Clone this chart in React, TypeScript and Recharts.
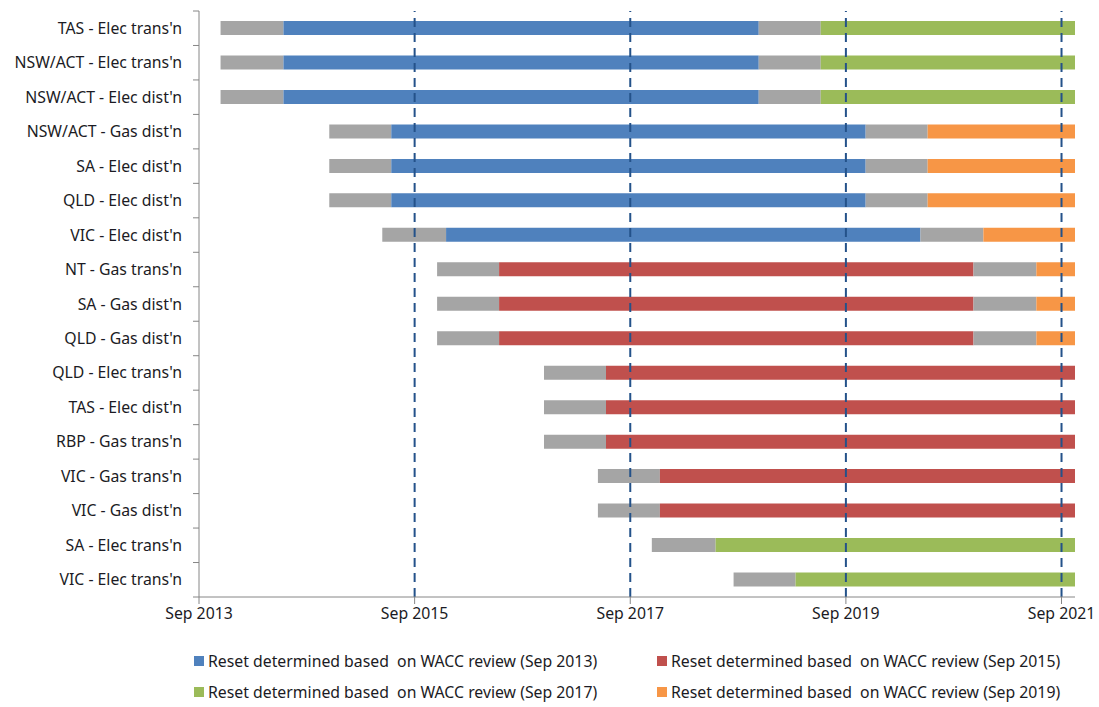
import React from "react";
import { BarChart, Bar, Cell, XAxis, YAxis, ReferenceLine } from "recharts";

// months after Sep 2013
const categories = [
  "TAS - Elec trans'n",
  "NSW/ACT - Elec trans'n",
  "NSW/ACT - Elec dist'n",
  "NSW/ACT - Gas dist'n",
  "SA - Elec dist'n",
  "QLD - Elec dist'n",
  "VIC - Elec dist'n",
  "NT - Gas trans'n",
  "SA - Gas dist'n",
  "QLD - Gas dist'n",
  "QLD - Elec trans'n",
  "TAS - Elec dist'n",
  "RBP - Gas trans'n",
  "VIC - Gas trans'n",
  "VIC - Gas dist'n",
  "SA - Elec trans'n",
  "VIC - Elec trans'n",
];
const reviewStart = [2.4, 2.4, 2.4, 14.5, 14.5, 14.5, 20.4, 26.5, 26.5, 26.5, 38.4, 38.4, 38.4, 44.4, 44.4, 50.4, 59.5];
const resetStart = [9.4, 9.4, 9.4, 21.4, 21.4, 21.4, 27.5, 33.4, 33.4, 33.4, 45.3, 45.3, 45.3, 51.3, 51.3, 57.5, 66.4];
const nextReviewStart = [62.3, 62.3, 62.3, 74.2, 74.2, 74.2, 80.3, 86.2, 86.2, 86.2, null, null, null, null, null, null, null];
const nextResetStart = [69.2, 69.2, 69.2, 81.1, 81.1, 81.1, 87.3, 93.2, 93.2, 93.2, null, null, null, null, null, null, null];
const resetBasis = ["2013", "2013", "2013", "2013", "2013", "2013", "2013", "2015", "2015", "2015", "2015", "2015", "2015", "2015", "2015", "2017", "2017"];
const nextBasis = ["2017", "2017", "2017", "2019", "2019", "2019", "2019", "2019", "2019", "2019", null, null, null, null, null, null, null];

const END = 97.5; // right edge of the time axis
const tickMonths = [0, 24, 48, 72, 96];
const tickLabels = ["Sep 2013", "Sep 2015", "Sep 2017", "Sep 2019", "Sep 2021"];
const reviewLines = [24, 48, 72, 96];

const GREY = "#A5A5A5";
const BASIS_COLORS: Record<string, string> = {
  "2013": "#4F81BD",
  "2015": "#C0504D",
  "2017": "#9BBB59",
  "2019": "#F79646",
};
const legendItems = ["2013", "2015", "2017", "2019"];

const FONT = "'Noto Sans', Lato, sans-serif";
const TEXT = "#1b1b24";
const AXIS = "#868686";
const FS = 15.8;

const PLOT_LEFT = 199;
const PLOT_TOP = 11;
const PLOT_BOTTOM = 597;
const BAND = (PLOT_BOTTOM - PLOT_TOP) / categories.length;

const data = categories.map((name, i) => {
  const mainEnd = nextReviewStart[i] ?? END;
  return {
    name,
    offset: reviewStart[i],
    pre: resetStart[i] - reviewStart[i],
    main: mainEnd - resetStart[i],
    gap: nextReviewStart[i] != null ? nextResetStart[i]! - nextReviewStart[i]! : 0,
    next: nextResetStart[i] != null ? END - nextResetStart[i]! : 0,
  };
});

const CategoryTick = (props: any) => {
  const { y, payload, index } = props;
  return (
    <g>
      <text x={182} y={y} dy="0.35em" textAnchor="end" fontSize={FS} fill={TEXT} fontFamily={FONT}>
        {payload.value}
      </text>
      <line x1={PLOT_LEFT - 6} x2={PLOT_LEFT} y1={y - BAND / 2} y2={y - BAND / 2} stroke={AXIS} />
      {index === categories.length - 1 && (
        <line x1={PLOT_LEFT - 6} x2={PLOT_LEFT} y1={y + BAND / 2} y2={y + BAND / 2} stroke={AXIS} />
      )}
    </g>
  );
};

const App = () => {
  return (
    <div style={{ position: "absolute", left: 0, top: 0, width: 1099, height: 707, background: "#fff", fontFamily: FONT }}>
      <BarChart
        width={1099}
        height={640}
        data={data}
        layout="vertical"
        barCategoryGap={0}
        barSize={14}
        margin={{ top: PLOT_TOP, right: 24, bottom: 0, left: 0 }}
      >
        <XAxis
          type="number"
          domain={[0, END]}
          ticks={tickMonths}
          tickFormatter={(v) => tickLabels[tickMonths.indexOf(v)]}
          height={43}
          allowDataOverflow
          stroke={AXIS}
          tickSize={7}
          tick={{ fontSize: FS, fill: TEXT, fontFamily: FONT }}
          tickMargin={4}
        />
        <YAxis
          type="category"
          dataKey="name"
          width={PLOT_LEFT}
          stroke={AXIS}
          tickLine={false}
          interval={0}
          tick={<CategoryTick />}
        />
        <Bar dataKey="offset" stackId="a" fill="transparent" isAnimationActive={false} />
        <Bar dataKey="pre" stackId="a" fill={GREY} isAnimationActive={false} />
        <Bar dataKey="main" stackId="a" isAnimationActive={false}>
          {data.map((d, i) => (
            <Cell key={d.name} fill={BASIS_COLORS[resetBasis[i]]} />
          ))}
        </Bar>
        <Bar dataKey="gap" stackId="a" fill={GREY} isAnimationActive={false} />
        <Bar dataKey="next" stackId="a" isAnimationActive={false}>
          {data.map((d, i) => (
            <Cell key={d.name} fill={nextBasis[i] ? BASIS_COLORS[nextBasis[i]!] : "transparent"} />
          ))}
        </Bar>
        {reviewLines.map((m) => (
          <ReferenceLine key={m} x={m} stroke="#24528A" strokeWidth={2} strokeDasharray="9 6" />
        ))}
      </BarChart>

      {/* Legend */}
      <div
        style={{
          position: "absolute",
          left: 194,
          top: 650,
          display: "grid",
          gridTemplateColumns: "463px 420px",
          rowGap: 9,
          fontSize: FS,
          color: TEXT,
        }}
      >
        {legendItems.map((k) => (
          <div key={k} style={{ display: "flex", alignItems: "center", height: 22 }}>
            <span style={{ width: 10, height: 10, background: BASIS_COLORS[k], marginRight: 4, display: "inline-block" }} />
            <span style={{ whiteSpace: "pre" }}>Reset determined based  on WACC review (Sep {k})</span>
          </div>
        ))}
      </div>
    </div>
  );
};

export default App;
